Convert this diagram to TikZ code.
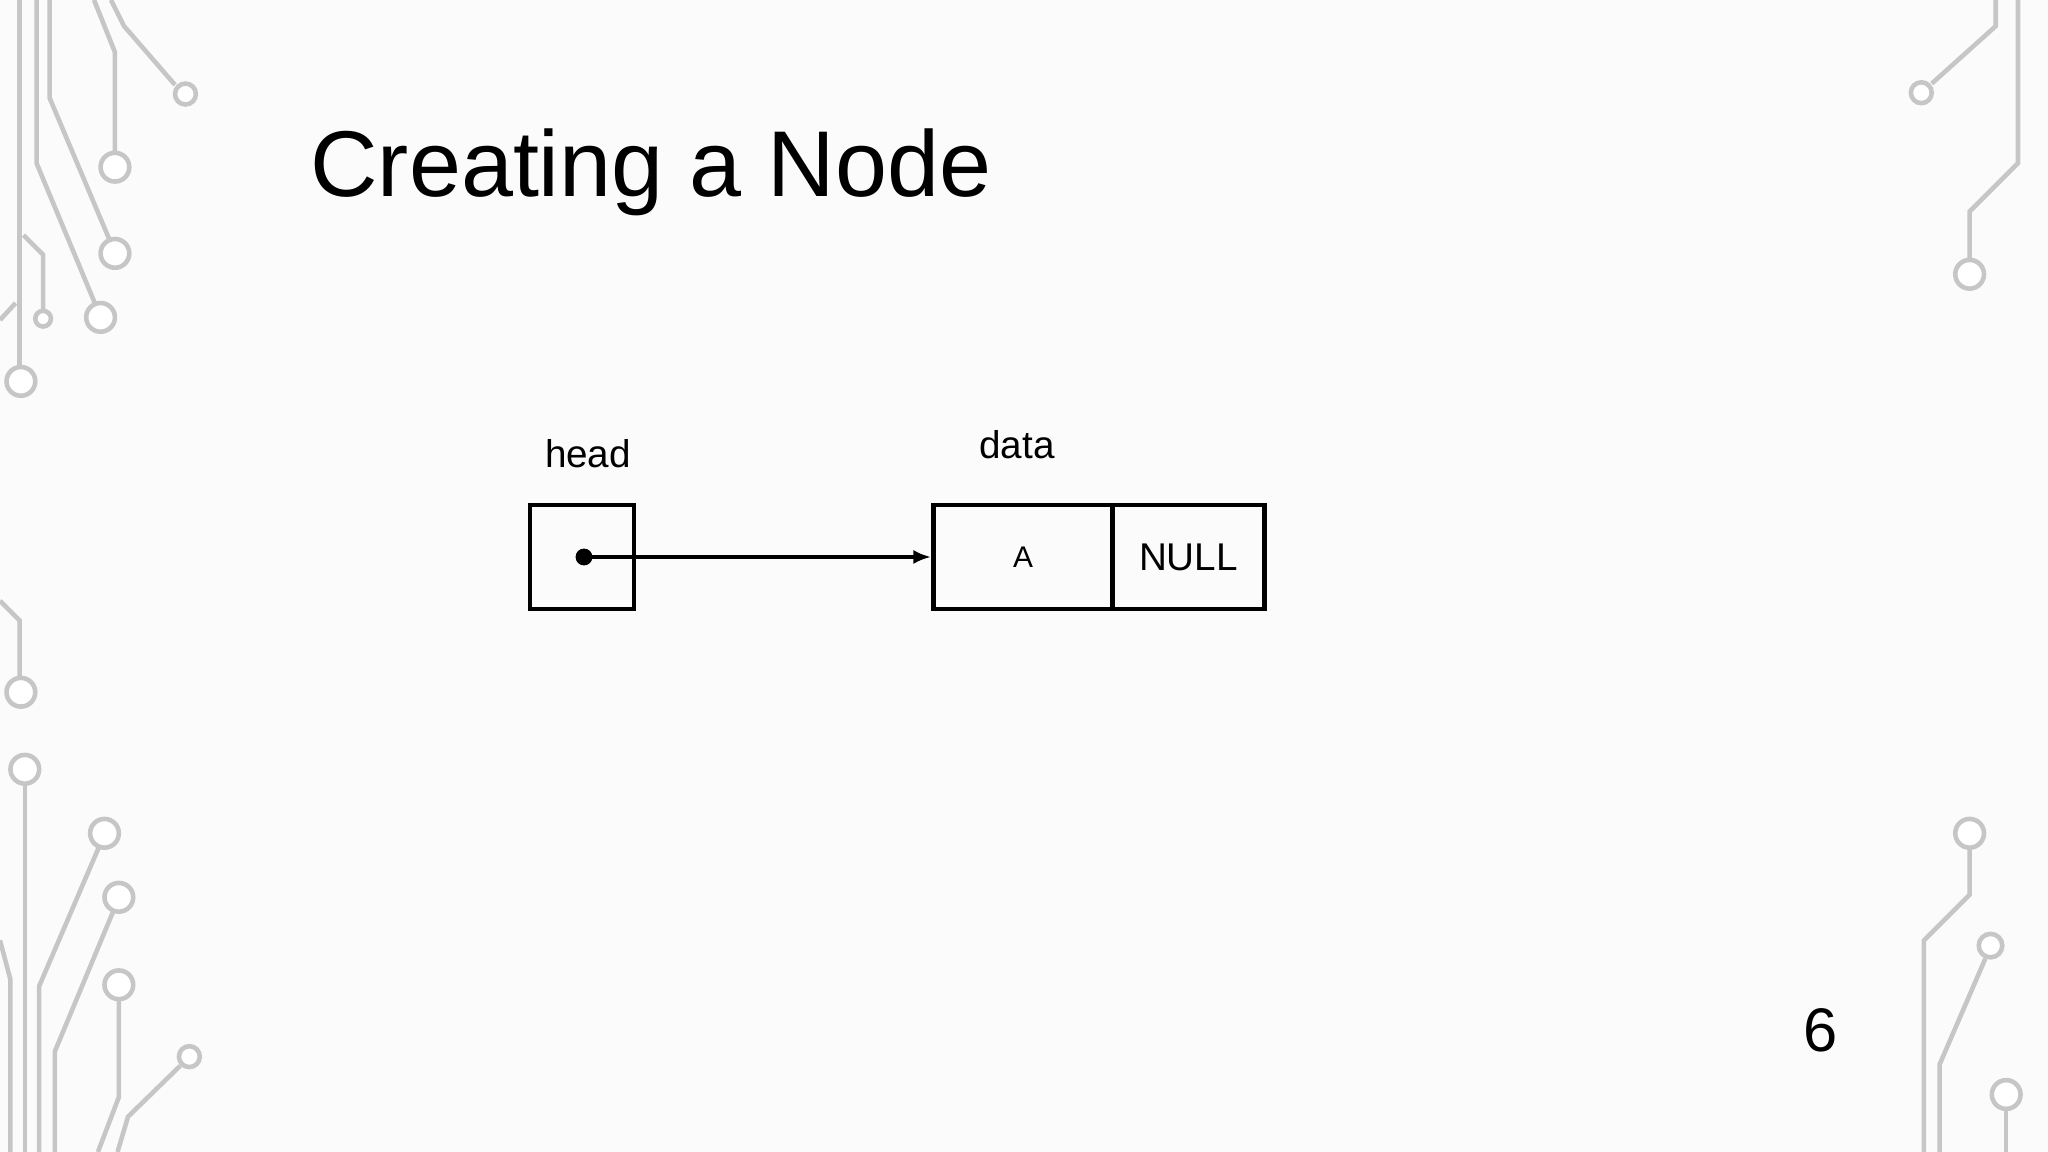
\documentclass[tikz,border=0pt]{standalone}
\usepackage{fontspec}
\setmainfont{Liberation Sans}
\usetikzlibrary{positioning,arrows.meta}
\tikzset{
  celda/.style={draw, line width=1.4pt, minimum height=1.04cm, inner sep=0pt},
  circuito/.style={draw=gray!45, line width=1.3pt},
  pad/.style={circuito, fill=white},
}
\begin{document}
\begin{tikzpicture}
  \useasboundingbox (0,0) rectangle (20.48,11.52); % marco
  \fill[gray!3] (0,0) rectangle (20.48,11.52);

  % circuito decorativo
  \begin{scope}[x=0.01306cm, y=-0.01306cm, shift={(0,-882)}]
    \draw[circuito] (72,0) -- (88,40) -- (88,117);
    \draw[circuito] (85,0) -- (95,20) -- (134,65);
    \draw[circuito] (38,0) -- (38,75) -- (84,184);
    \draw[circuito] (28,0) -- (28,125) -- (73,233);
    \draw[circuito] (18,180) -- (33,195) -- (33,240);
    \draw[circuito] (15,0) -- (15,281);
    \draw[circuito] (0,245) -- (12,232);
    \draw[circuito] (0,460) -- (15,475) -- (15,519);
    \draw[circuito] (19,600) -- (19,882);
    \draw[circuito] (76,648) -- (30,755) -- (30,882);
    \draw[circuito] (87,697) -- (42,805) -- (42,882);
    \draw[circuito] (91,765) -- (91,840) -- (75,882);
    \draw[circuito] (138,816) -- (98,855) -- (90,882);
    \draw[circuito] (0,720) -- (8,750) -- (8,882);
    \draw[circuito] (1528,0) -- (1528,20) -- (1479,64);
    \draw[circuito] (1545,0) -- (1545,125) -- (1508,162) -- (1508,199);
    \draw[circuito] (1508,649) -- (1508,685) -- (1473,720) -- (1473,882);
    \draw[circuito] (1520,734) -- (1485,815) -- (1485,882);
    \draw[circuito] (1536,849) -- (1536,882);
    \foreach \x/\y/\r in {88/128/11, 142/72/8, 88/194/11, 77/243/11, 33/244/6, 16/292/11,
      16/530/11, 19/589/11, 80/638/11, 91/687/11, 91/754/11, 145/809/8,
      1471/71/8, 1508/210/11, 1508/638/11, 1524/724/9, 1536/838/11}
      \draw[pad] (\x,\y) circle (\r);
  \end{scope}

  \node[anchor=west, font=\fontsize{26.6}{28}\selectfont] (titulo) at (2.98,9.8) {Creating a Node};

  % lista
  \node[celda, minimum width=1.04cm] (head) at (5.82,5.95) {};
  \node[celda, minimum width=1.79cm, anchor=west] (dato) at (9.31,5.95) {\fontsize{8.5}{10}\selectfont A};
  \node[celda, minimum width=1.52cm, anchor=west] (sig) at ([xshift=-1.4pt]dato.east) {\fontsize{11}{13}\selectfont NULL};
  \node[font=\fontsize{11}{13}\selectfont] (headlbl) at (5.88,6.98) {head};
  \node[font=\fontsize{11}{13}\selectfont] (datalbl) at (10.17,7.07) {data};

  \fill (head.center) ++(0.02,0) coordinate (punto) circle (2.4pt); % puntero
  \draw[line width=1.2pt, -{Latex[length=5pt,width=4pt]}] (punto) -- (dato.west);

  \node[font=\fontsize{17.5}{19}\selectfont] (pagina) at (18.21,1.22) {6};
\end{tikzpicture}
\end{document}
